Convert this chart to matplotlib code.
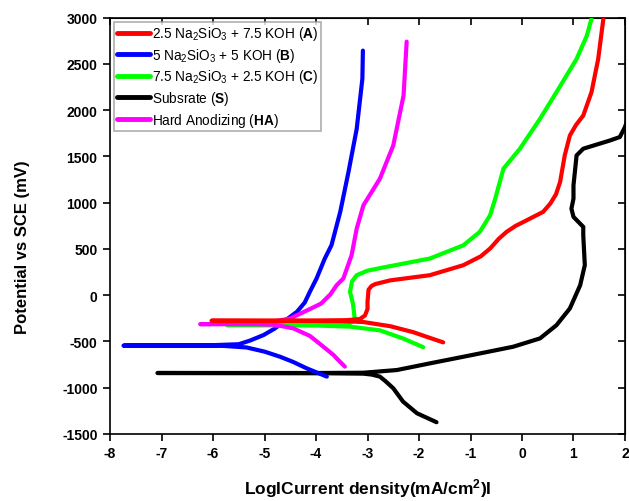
import matplotlib
matplotlib.use("Agg")
import matplotlib.pyplot as plt

plt.rcParams['font.family'] = ['Liberation Sans', 'DejaVu Sans']
plt.rcParams['mathtext.fontset'] = 'custom'
plt.rcParams['mathtext.rm'] = 'Liberation Sans'
plt.rcParams['mathtext.bf'] = 'Liberation Sans:bold'
plt.rcParams['mathtext.it'] = 'Liberation Sans:italic'

# Polarization curves: log|i| (mA/cm^2) vs potential (mV vs SCE)
# Each curve runs from the cathodic end, through the corrosion spike, up the anodic branch.
logi_A = [-1.53, -1.85, -2.11, -2.56, -2.76, -3.08, -3.5, -4.5, -6.03,
          -5.0, -4.0, -3.40, -3.15, -3.05, -3.00, -3.00, -2.98, -2.92, -2.85,
          -2.56, -1.79, -1.14, -0.80, -0.62, -0.45, -0.30, -0.12, 0.03, 0.41,
          0.55, 0.66, 0.74, 0.83, 0.93, 1.05, 1.19, 1.35, 1.48, 1.58]
pot_A = [-510, -450, -400, -335, -318, -290, -280, -278, -276,
         -276, -274, -270, -258, -220, -150, -71, 60, 100, 120,
         160, 216, 324, 420, 504, 610, 684, 750, 792, 900,
         990, 1090, 1223, 1510, 1726, 1840, 1942, 2194, 2553, 2985]

logi_B = [-3.79, -4.18, -4.45, -4.70, -5.0, -5.35, -5.8, -6.5, -7.74,
          -7.0, -6.0, -5.5, -5.28, -5.02, -4.80, -4.63, -4.37, -4.22, -4.12,
          -3.99, -3.83, -3.70, -3.53, -3.37, -3.21, -3.10, -3.09]
pot_B = [-880, -791, -720, -665, -610, -565, -548, -545, -545,
         -543, -540, -530, -490, -431, -360, -287, -179, -80, 37,
         180, 396, 540, 900, 1331, 1798, 2338, 2643]

logi_C = [-1.92, -2.3, -2.76, -3.34, -4.0, -5.73,
          -5.0, -4.0, -3.45, -3.30, -3.25, -3.28, -3.34, -3.30, -3.21, -3.0,
          -2.69, -1.79, -1.14, -0.82, -0.62, -0.52, -0.36, -0.04, 0.35, 0.67,
          1.06, 1.26, 1.35]
pot_C = [-562, -470, -380, -340, -328, -324,
         -322, -320, -315, -290, -250, -100, 37, 150, 216, 265,
         300, 396, 539, 684, 863, 1043, 1367, 1583, 1906, 2194,
         2553, 2805, 2990]

logi_S = [-1.66, -2.04, -2.31, -2.50, -2.65, -2.76, -2.92, -3.08, -4.0, -7.08,
          -6.0, -4.0, -3.08, -2.43, -1.79, -1.0, -0.17, 0.35, 0.67,
          0.93, 1.13, 1.22, 1.19, 1.19, 1.0, 0.96, 1.0, 1.0, 1.06,
          1.19, 1.71, 1.90, 2.0, 2.05]
pot_S = [-1373, -1276, -1150, -1006, -930, -880, -858, -848, -843, -841,
         -841, -841, -838, -809, -737, -650, -557, -467, -324,
         -143, 108, 324, 647, 738, 846, 935, 1043, 1187, 1510,
         1583, 1672, 1709, 1817, 1900]

logi_HA = [-3.44, -3.60, -3.66, -3.85, -4.12, -4.44, -4.8, -5.2, -6.25,
           -5.5, -4.96, -4.50, -4.12, -3.9, -3.72, -3.6, -3.47, -3.31, -3.21,
           -3.08, -2.76, -2.50, -2.30, -2.24]
pot_HA = [-772, -683, -647, -560, -440, -359, -320, -313, -313,
          -310, -300, -251, -150, -90, 10, 108, 180, 431, 720,
          971, 1259, 1618, 2158, 2740]

labels = [r'2.5 Na$_2$SiO$_3$ + 7.5 KOH ($\mathbf{A}$)',
          r'5 Na$_2$SiO$_3$ + 5 KOH ($\mathbf{B}$)',
          r'7.5 Na$_2$SiO$_3$ + 2.5 KOH ($\mathbf{C}$)',
          r'Subsrate ($\mathbf{S}$)',
          r'Hard Anodizing ($\mathbf{HA}$)']
colors = ['#ff0000', '#0000ff', '#00ff00', '#000000', '#ff00ff']

xticks = [-8, -7, -6, -5, -4, -3, -2, -1, 0, 1, 2]
yticks = [-1500, -1000, -500, 0, 500, 1000, 1500, 2000, 2500, 3000]

fig = plt.figure(figsize=(6.29, 5.02), dpi=100)
ax = fig.add_axes([0.175, 0.1335, 0.8186, 0.8295])

series = [(logi_A, pot_A), (logi_B, pot_B), (logi_C, pot_C),
          (logi_S, pot_S), (logi_HA, pot_HA)]
zorders = [6, 3, 4, 2, 5]
for (x, y), lab, c, z in zip(series, labels, colors, zorders):
    ax.plot(x, y, color=c, lw=3, label=lab, zorder=z,
            solid_capstyle='round', solid_joinstyle='round')

ax.set_xlim(-8, 2)
ax.set_ylim(-1500, 3000)
ax.set_xticks(xticks)
ax.set_yticks(yticks)
ax.set_xticklabels([str(t) for t in xticks], fontweight='bold', fontsize=10)
ax.set_yticklabels([str(t) for t in yticks], fontweight='bold', fontsize=10)
ax.tick_params(axis='both', which='major', direction='out', length=5, width=1.2,
               pad=4)

# mirrored inward ticks on top and right
axt = ax.secondary_xaxis('top')
axt.set_xticks(xticks)
axt.tick_params(direction='in', length=5, width=1.2, labeltop=False)
axr = ax.secondary_yaxis('right')
axr.set_yticks(yticks)
axr.tick_params(direction='in', length=5, width=1.2, labelright=False)

for s in ax.spines.values():
    s.set_linewidth(1.2)

ax.set_xlabel('LogICurrent density(mA/cm$^\\mathbf{2}$)I', fontsize=12.5,
              fontweight='bold', labelpad=11)
ax.set_ylabel('Potential vs SCE (mV)', fontsize=12, fontweight='bold')
ax.yaxis.set_label_coords(-0.155, 0.45)

leg = ax.legend(loc='upper left', fontsize=9.8, frameon=True, fancybox=False,
                borderaxespad=0.3, borderpad=0.2, labelspacing=0.26,
                handlelength=2.4, handletextpad=0.2)
leg.get_frame().set_edgecolor('#999999')
leg.get_frame().set_linewidth(1.2)
for line in leg.get_lines():
    line.set_linewidth(3.5)

fig.savefig('out.png', dpi=100)
